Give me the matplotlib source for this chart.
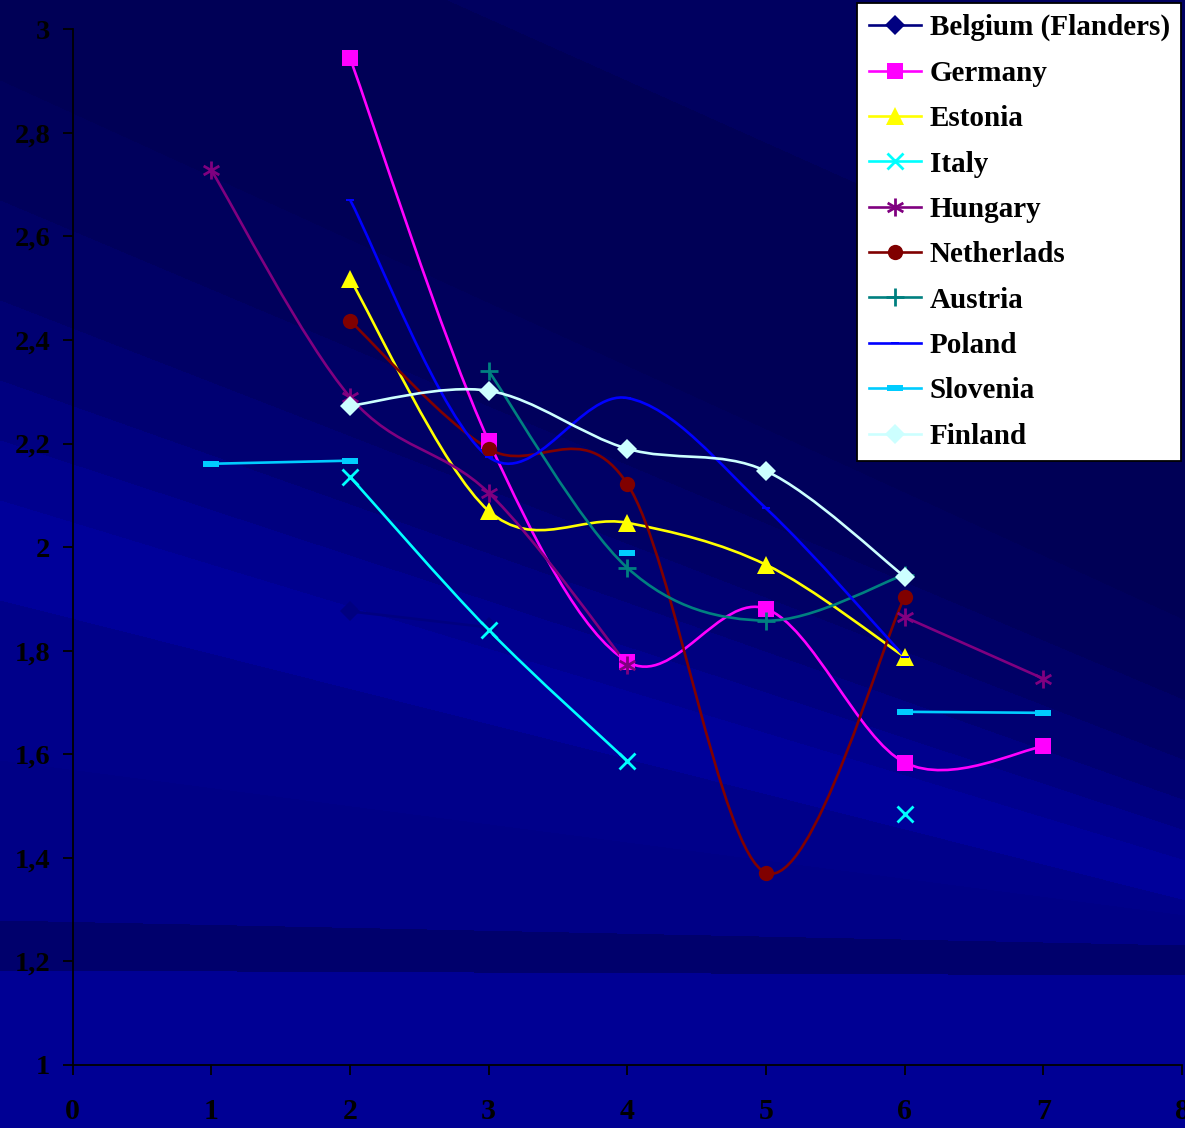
import numpy as np
import matplotlib.pyplot as plt
from matplotlib.path import Path
from matplotlib.patches import PathPatch
from matplotlib.lines import Line2D

# Series values per x position (nan = no value)
xs = [1, 2, 3, 4, 5, 6, 7]
nan = np.nan
belgium     = [nan, 1.876, 1.845, nan, nan, nan, nan]
germany     = [nan, 2.945, 2.205, 1.779, 1.881, 1.584, 1.615]
estonia     = [nan, 2.518, 2.070, 2.047, 1.966, 1.788, nan]
italy       = [nan, 2.136, 1.840, 1.587, nan, 1.485, nan]
hungary     = [2.728, 2.290, 2.105, 1.773, nan, 1.865, 1.746]
netherlands = [nan, 2.437, 2.190, 2.122, 1.371, 1.904, nan]
austria     = [nan, nan, 2.340, 1.960, 1.858, 1.947, nan]
poland      = [nan, 2.671, 2.174, 2.288, 2.075, 1.788, nan]
slovenia    = [2.161, 2.167, nan, 1.988, nan, 1.682, 1.680]
finland     = [nan, 2.273, 2.302, 2.190, 2.147, 1.943, nan]

names = ["Belgium (Flanders)", "Germany", "Estonia", "Italy", "Hungary",
         "Netherlads", "Austria", "Poland", "Slovenia", "Finland"]
yticks = [1, 1.2, 1.4, 1.6, 1.8, 2, 2.2, 2.4, 2.6, 2.8, 3]

# custom marker shapes
star = Path([(0, -1), (0, 1), (-0.87, -0.5), (0.87, 0.5), (-0.87, 0.5), (0.87, -0.5)],
            [Path.MOVETO, Path.LINETO, Path.MOVETO, Path.LINETO, Path.MOVETO, Path.LINETO])
dash = Path([(-1, -0.35), (1, -0.35), (1, 0.35), (-1, 0.35), (-1, -0.35)],
            [Path.MOVETO, Path.LINETO, Path.LINETO, Path.LINETO, Path.CLOSEPOLY])

styles = [
    dict(color="#000080", marker="D", ms=10, mew=0),
    dict(color="#FF00FF", marker="s", ms=11, mew=0),
    dict(color="#FFFF00", marker="^", ms=13, mew=0),
    dict(color="#00FFFF", marker="x", ms=11, mew=2),
    dict(color="#800080", marker=star, ms=13, mew=2),
    dict(color="#800000", marker="o", ms=11, mew=0),
    dict(color="#008080", marker="+", ms=13, mew=2),
    dict(color="#0000FF", marker=dash, ms=6, mew=0),
    dict(color="#00CCFF", marker=dash, ms=11, mew=0),
    dict(color="#CCFFFF", marker="D", ms=10, mew=0),
]
series = [belgium, germany, estonia, italy, hungary, netherlands, austria,
          poland, slovenia, finland]


def smooth_path(px, py):
    # Bezier curve through the points, Catmull-Rom style tangents
    p = np.column_stack([px, py])
    n = len(p)
    verts = [p[0]]
    codes = [Path.MOVETO]
    for i in range(n - 1):
        p0 = p[i - 1] if i > 0 else p[i]
        p3 = p[i + 2] if i + 2 < n else p[i + 1]
        c1 = p[i] + (p[i + 1] - p0) / 6.0
        c2 = p[i + 1] - (p3 - p[i]) / 6.0
        verts += [c1, c2, p[i + 1]]
        codes += [Path.CURVE4] * 3
    return Path(verts, codes)


fig = plt.figure(figsize=(11.85, 11.28), dpi=100)

# background: slanted dark blue bands, each boundary runs from (0, yl) to (W, yr)
H, W = 1128, 1185
yy, xx = np.mgrid[0:H, 0:W]
bounds = [(-200, 330), (80, 620), (200, 700), (300, 760), (380, 800), (440, 830),
          (500, 860), (600, 900), (760, 915), (920, 945), (970, 975)]
shade = [0x60, 0x56, 0x5C, 0x66, 0x72, 0x80, 0x8E, 0x9A, 0x8A, 0x86, 0x6C, 0x94]
idx = np.zeros((H, W), int)
for yl, yr in bounds:
    idx += (yy > yl + (yr - yl) * xx / W)
bg = np.zeros((H, W, 3))
bg[..., 2] = np.array(shade)[idx] / 255.0
axbg = fig.add_axes([0, 0, 1, 1], zorder=0)
axbg.imshow(bg, aspect="auto", interpolation="bilinear")
axbg.axis("off")

ax = fig.add_axes([0.0613, 0.0559, 0.9362, 0.9181], zorder=1)
ax.set_facecolor("none")
ax.set_xlim(0, 8)
ax.set_ylim(1, 3)

handles = []
for vals, st, name in zip(series, styles, names):
    v = np.array(vals, float)
    x = np.array(xs, float)
    ok = ~np.isnan(v)
    # split into runs of consecutive values
    runs, cur = [], []
    for xi, vi, good in zip(x, v, ok):
        if good:
            cur.append((xi, vi))
        elif cur:
            runs.append(cur)
            cur = []
    if cur:
        runs.append(cur)
    for r in runs:
        if len(r) > 1:
            rx, ry = zip(*r)
            ax.add_patch(PathPatch(smooth_path(rx, ry), fill=False,
                                   edgecolor=st["color"], lw=1.9, zorder=2))
    ax.plot(x[ok], v[ok], linestyle="none", marker=st["marker"], ms=st["ms"],
            mfc=st["color"], mec=st["color"], mew=st["mew"], zorder=3)
    handles.append(Line2D([], [], color=st["color"], lw=1.9, marker=st["marker"],
                          ms=st["ms"], mfc=st["color"], mec=st["color"],
                          mew=st["mew"]))

ax.spines["top"].set_visible(False)
ax.spines["right"].set_visible(False)
for s in ("left", "bottom"):
    ax.spines[s].set_color("black")
    ax.spines[s].set_linewidth(1.3)

ax.set_xticks(range(0, 9))
ax.set_yticks(yticks)
ax.set_yticklabels([("%g" % t).replace(".", ",") for t in yticks])
for lab in ax.get_yticklabels():
    lab.set_fontproperties(dict(family="Liberation Serif", weight="bold", size=20.5))
    lab.set_color("black")
for lab in ax.get_xticklabels():
    lab.set_fontproperties(dict(family="Liberation Serif", weight="bold", size=21.5))
    lab.set_color("black")
ax.tick_params(axis="y", direction="out", length=7, width=1.3, color="black", pad=9)
ax.tick_params(axis="x", direction="out", length=7, width=1.3, color="black", pad=17)

leg = fig.legend(handles, names, loc="upper right", bbox_to_anchor=(0.9966, 0.9973),
                 prop=dict(family="Liberation Serif", weight="bold", size=21),
                 frameon=True, fancybox=False, framealpha=1, edgecolor="black",
                 handlelength=1.8, handletextpad=0.3, labelspacing=0.63,
                 borderpad=0.38, borderaxespad=0, numpoints=1)
leg.get_frame().set_linewidth(1.3)
leg.set_zorder(5)

fig.savefig("out.png", dpi=100)
